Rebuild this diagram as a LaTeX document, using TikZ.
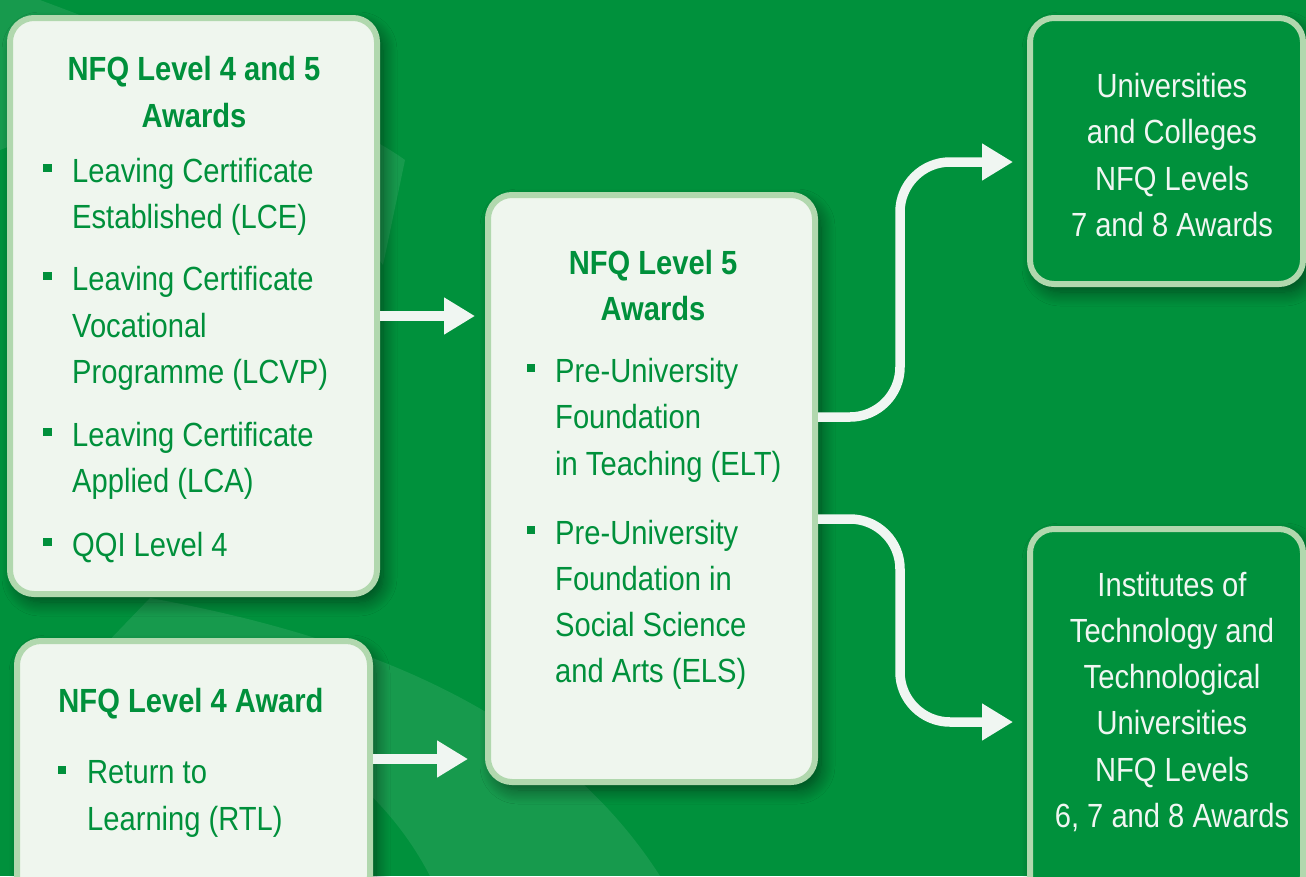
\documentclass[tikz,border=0pt]{standalone}
\usepackage{fontspec}
\setmainfont{Liberation Sans}[FakeStretch=0.87]
\usetikzlibrary{arrows.meta,shadows.blur}
\definecolor{bggreen}{HTML}{00913C}
\definecolor{boxfill}{HTML}{EFF6EE}
\definecolor{bordergreen}{HTML}{B1D8AE}
\definecolor{textgreen}{HTML}{00903B}
\definecolor{arrowwhite}{HTML}{F0F6F2}
\tikzset{
  box/.style={draw=bordergreen, line width=6pt, fill=boxfill, rounded corners=24pt,
    inner sep=0pt, outer sep=3pt,
    blur shadow={shadow xshift=6pt, shadow yshift=-8pt, shadow opacity=50, shadow blur radius=14pt, shadow blur steps=12}},
  darkbox/.style={box, fill=bggreen},
  txt/.style={inner sep=0pt, text=textgreen, anchor=base west},
  ttl/.style={inner sep=0pt, text=textgreen, anchor=base, font=\fontsize{33.5}{46.5}\selectfont\bfseries},
  wtxt/.style={inner sep=0pt, text=arrowwhite, anchor=base},
  bul/.style={fill=textgreen, inner sep=0pt, minimum size=8.5pt, draw=none},
  arr/.style={draw=arrowwhite, line width=9.5pt, -{Triangle[length=31pt,width=35pt]}},
  band/.style={fill=white, fill opacity=0.09, draw=none}
}
\begin{document}
\begin{tikzpicture}[x=1pt,y=-1pt,font=\fontsize{33.5}{46.5}\selectfont]
\clip (0,0) rectangle (1306,876);
\fill[bggreen] (0,0) rectangle (1306,876);
% faint background bands
\fill[band] (40,0) .. controls (200,60) and (350,120) .. (405,160) -- (383,265) .. controls (300,150) and (150,90) .. (0,150) -- (0,0) -- cycle;
\fill[band] (150,598) .. controls (380,640) and (560,720) .. (660,876) -- (430,876) .. controls (370,760) and (250,700) .. (100,650) -- cycle;

% boxes
\node[box, minimum width=367pt, minimum height=576pt] (box1) at (193.5,306) {};
\node[box, minimum width=353pt, minimum height=259pt] (box2) at (193.5,770.5) {};
\node[box, minimum width=327pt, minimum height=587pt] (mid) at (651.5,488.5) {};
\node[darkbox, minimum width=273pt, minimum height=266pt] (tr) at (1166.5,151) {};
\node[darkbox, minimum width=273pt, minimum height=371pt] (br) at (1166.5,714.5) {};

% box 1 text
\node[ttl] (t1a) at (194,80) {NFQ Level 4 and 5};
\node[ttl] (t1b) at (194,127) {Awards};
\node[bul] (b1a) at (47.5,168) {};
\node[txt] (l1a) at (72,182) {Leaving Certificate};
\node[txt] (l1b) at (72,228) {Established (LCE)};
\node[bul] (b1b) at (47.5,276) {};
\node[txt] (l1c) at (72,290) {Leaving Certificate};
\node[txt] (l1d) at (72,337) {Vocational};
\node[txt] (l1e) at (72,383) {Programme (LCVP)};
\node[bul] (b1c) at (47.5,432) {};
\node[txt] (l1f) at (72,446) {Leaving Certificate};
\node[txt] (l1g) at (72,492) {Applied (LCA)};
\node[bul] (b1d) at (47.5,542) {};
\node[txt] (l1h) at (72,556) {QQI Level 4};

% box 2 text
\node[ttl] (t2) at (191,712) {NFQ Level 4 Award};
\node[bul] (b2) at (62,770) {};
\node[txt] (l2a) at (87,783) {Return to};
\node[txt] (l2b) at (87,830) {Learning (RTL)};

% middle text
\node[ttl] (t3a) at (653,274) {NFQ Level 5};
\node[ttl] (t3b) at (653,320) {Awards};
\node[bul] (b3a) at (531,368) {};
\node[txt] (l3a) at (555,382) {Pre-University};
\node[txt] (l3b) at (555,428) {Foundation};
\node[txt] (l3c) at (555,475) {in Teaching (ELT)};
\node[bul] (b3b) at (531,530) {};
\node[txt] (l3d) at (555,544) {Pre-University};
\node[txt] (l3e) at (555,590) {Foundation in};
\node[txt] (l3f) at (555,636) {Social Science};
\node[txt] (l3g) at (555,682) {and Arts (ELS)};

% right boxes text
\node[wtxt] (r1a) at (1172,97) {Universities};
\node[wtxt] (r1b) at (1172,143) {and Colleges};
\node[wtxt] (r1c) at (1172,190) {NFQ Levels};
\node[wtxt] (r1d) at (1172,236) {7 and 8 Awards};
\node[wtxt] (r2a) at (1172,596) {Institutes of};
\node[wtxt] (r2b) at (1172,642) {Technology and};
\node[wtxt] (r2c) at (1172,688) {Technological};
\node[wtxt] (r2d) at (1172,734) {Universities};
\node[wtxt] (r2e) at (1172,781) {NFQ Levels};
\node[wtxt] (r2f) at (1172,827) {6, 7 and 8 Awards};

% arrows
\draw[arr, shorten >=10pt] (box1.east |- 0,316) -- (mid.west |- 0,316);
\draw[arr, shorten >=17pt] (box2.east |- 0,759) -- (mid.west |- 0,759);
\draw[arr, rounded corners=50pt, shorten >=14pt] (mid.east |- 0,417) -- (900,417) -- (900,162) -- (tr.west |- 0,162);
\draw[arr, rounded corners=50pt, shorten >=14pt] (mid.east |- 0,519) -- (900,519) -- (900,722) -- (br.west |- 0,722);
\end{tikzpicture}
\end{document}
